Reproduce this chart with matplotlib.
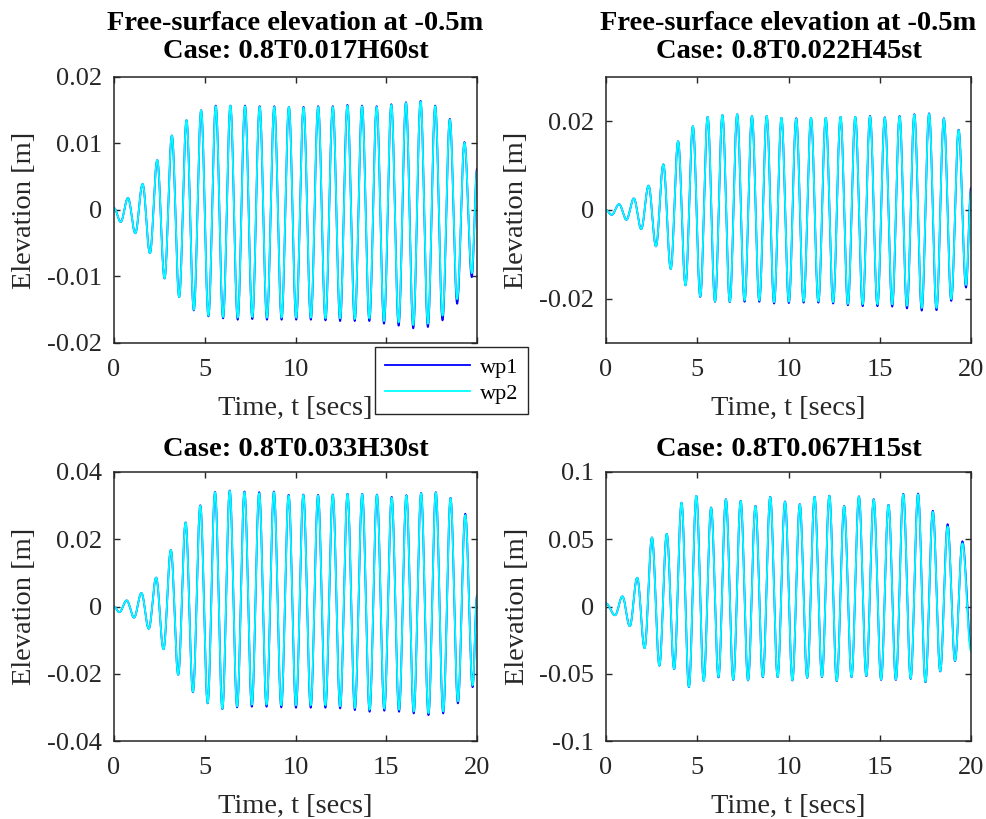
import numpy as np
import matplotlib
matplotlib.use('Agg')
import matplotlib.pyplot as plt
from matplotlib.ticker import FormatStrFormatter

plt.rcParams['font.family'] = ['Liberation Serif', 'DejaVu Serif']
plt.rcParams['axes.unicode_minus'] = False

# extrema (trough, crest, trough, ...), metres
tl_wp2 = [-0.0018, 0.0018, -0.0035, 0.0039, -0.0065, 0.0075, -0.0103, 0.0112,
          -0.0131, 0.0135, -0.0150, 0.0150, -0.0159, 0.0156, -0.0161, 0.0157,
          -0.0162, 0.0156, -0.0161, 0.0155, -0.0162, 0.0155, -0.0162, 0.0155,
          -0.0162, 0.0154, -0.0162, 0.0155, -0.0163, 0.0155, -0.0163, 0.0157,
          -0.0164, 0.0156, -0.0163, 0.0155, -0.0167, 0.0158, -0.0169, 0.0161,
          -0.0173, 0.0163, -0.0171, 0.0156, -0.0159, 0.0136, -0.0134, 0.0101,
          -0.0095]
tl_wp1 = [-0.0018, 0.0018, -0.0035, 0.0039, -0.0065, 0.0075, -0.0103, 0.0112,
          -0.0131, 0.0135, -0.0151, 0.0150, -0.0160, 0.0157, -0.0163, 0.0157,
          -0.0165, 0.0157, -0.0164, 0.0156, -0.0165, 0.0156, -0.0165, 0.0155,
          -0.0165, 0.0155, -0.0165, 0.0156, -0.0166, 0.0156, -0.0167, 0.0158,
          -0.0167, 0.0157, -0.0167, 0.0156, -0.0171, 0.0159, -0.0174, 0.0162,
          -0.0178, 0.0164, -0.0176, 0.0157, -0.0166, 0.0137, -0.0141, 0.0102,
          -0.0101]

tr_wp2 = [-0.0011, 0.0013, -0.0022, 0.0026, -0.0043, 0.0055, -0.0082, 0.0103,
          -0.0133, 0.0155, -0.0170, 0.0189, -0.0195, 0.0210, -0.0206, 0.0214,
          -0.0207, 0.0216, -0.0204, 0.0212, -0.0204, 0.0212, -0.0208, 0.0208,
          -0.0207, 0.0206, -0.0206, 0.0208, -0.0206, 0.0208, -0.0208, 0.0210,
          -0.0212, 0.0210, -0.0213, 0.0211, -0.0213, 0.0208, -0.0213, 0.0211,
          -0.0216, 0.0215, -0.0221, 0.0217, -0.0221, 0.0206, -0.0201, 0.0180,
          -0.0169]
tr_wp1 = [-0.0011, 0.0013, -0.0022, 0.0026, -0.0043, 0.0055, -0.0082, 0.0103,
          -0.0133, 0.0155, -0.0170, 0.0189, -0.0196, 0.0210, -0.0207, 0.0214,
          -0.0208, 0.0216, -0.0207, 0.0212, -0.0207, 0.0212, -0.0211, 0.0208,
          -0.0210, 0.0207, -0.0209, 0.0208, -0.0209, 0.0208, -0.0211, 0.0210,
          -0.0215, 0.0210, -0.0217, 0.0212, -0.0217, 0.0209, -0.0218, 0.0212,
          -0.0222, 0.0216, -0.0227, 0.0218, -0.0226, 0.0207, -0.0205, 0.0181,
          -0.0175]

bl_wp2 = [-0.0017, 0.0018, -0.0033, 0.0040, -0.0066, 0.0086, -0.0127, 0.0168,
          -0.0203, 0.0250, -0.0254, 0.0300, -0.0287, 0.0340, -0.0304, 0.0344,
          -0.0297, 0.0340, -0.0292, 0.0337, -0.0292, 0.0340, -0.0294, 0.0330,
          -0.0294, 0.0332, -0.0294, 0.0330, -0.0294, 0.0332, -0.0297, 0.0334,
          -0.0302, 0.0334, -0.0307, 0.0332, -0.0304, 0.0324, -0.0307, 0.0330,
          -0.0312, 0.0337, -0.0317, 0.0339, -0.0312, 0.0322, -0.0282, 0.0272,
          -0.0235]
bl_wp1 = [-0.0017, 0.0018, -0.0033, 0.0040, -0.0066, 0.0086, -0.0127, 0.0168,
          -0.0203, 0.0250, -0.0255, 0.0301, -0.0288, 0.0341, -0.0305, 0.0345,
          -0.0300, 0.0342, -0.0298, 0.0340, -0.0298, 0.0342, -0.0300, 0.0332,
          -0.0301, 0.0333, -0.0301, 0.0332, -0.0301, 0.0333, -0.0303, 0.0335,
          -0.0308, 0.0335, -0.0313, 0.0333, -0.0310, 0.0326, -0.0313, 0.0331,
          -0.0318, 0.0338, -0.0323, 0.0340, -0.0318, 0.0323, -0.0288, 0.0276,
          -0.0240]

br_wp2 = [-0.0065, 0.0075, -0.0146, 0.0214, -0.0309, 0.0513, -0.0440, 0.0540,
          -0.0465, 0.0771, -0.0598, 0.0822, -0.0553, 0.0734, -0.0523, 0.0796,
          -0.0543, 0.0784, -0.0548, 0.0746, -0.0523, 0.0814, -0.0523, 0.0779,
          -0.0548, 0.0759, -0.0528, 0.0814, -0.0523, 0.0822, -0.0553, 0.0746,
          -0.0523, 0.0817, -0.0515, 0.0796, -0.0543, 0.0754, -0.0543, 0.0834,
          -0.0535, 0.0834, -0.0560, 0.0704, -0.0480, 0.0595, -0.0402, 0.0470]
br_wp1 = [-0.0065, 0.0075, -0.0146, 0.0214, -0.0309, 0.0513, -0.0440, 0.0540,
          -0.0466, 0.0772, -0.0600, 0.0822, -0.0553, 0.0736, -0.0527, 0.0798,
          -0.0546, 0.0786, -0.0550, 0.0748, -0.0526, 0.0816, -0.0525, 0.0781,
          -0.0550, 0.0761, -0.0530, 0.0816, -0.0525, 0.0824, -0.0555, 0.0748,
          -0.0525, 0.0819, -0.0518, 0.0798, -0.0546, 0.0756, -0.0546, 0.0838,
          -0.0538, 0.0840, -0.0563, 0.0712, -0.0483, 0.0612, -0.0405, 0.0485]

# value at t=0 and t=20 for (wp1, wp2)
tl_ends = [(0.0003, 0.0062), (0.0003, 0.0058)]
tr_ends = [(0.0, 0.0050), (0.0, 0.0041)]
bl_ends = [(0.0, 0.0032), (0.0, 0.0030)]
br_ends = [(0.0023, -0.0300), (0.0023, -0.0334)]

# time of first extremum and wave period as seen in each panel
t_first = [0.367, 0.31, 0.294, 0.493]
periods = [0.806, 0.809, 0.811, 0.81]

titles = ['Free-surface elevation at -0.5m\nCase: 0.8T0.017H60st',
          'Free-surface elevation at -0.5m\nCase: 0.8T0.022H45st',
          'Case: 0.8T0.033H30st',
          'Case: 0.8T0.067H15st']
ylims = [(-0.02, 0.02), (-0.03, 0.03), (-0.04, 0.04), (-0.1, 0.1)]
yticks = [[-0.02, -0.01, 0, 0.01, 0.02], [-0.02, 0, 0.02],
          [-0.04, -0.02, 0, 0.02, 0.04], [-0.1, -0.05, 0, 0.05, 0.1]]
series = [(tl_wp1, tl_wp2, tl_ends), (tr_wp1, tr_wp2, tr_ends),
          (bl_wp1, bl_wp2, bl_ends), (br_wp1, br_wp2, br_ends)]


def trace(t0, period, eta, start, end, t_end=20.0):
    # join the read extrema with half-cosine arcs
    tk = np.concatenate([[0.0], t0 + 0.5 * period * np.arange(len(eta)), [t_end]])
    vk = np.concatenate([[start], eta, [end]])
    t = np.linspace(0, t_end, 6001)
    i = np.clip(np.searchsorted(tk, t, side='right') - 1, 0, len(tk) - 2)
    s = (t - tk[i]) / (tk[i + 1] - tk[i])
    return t, vk[i] + (vk[i + 1] - vk[i]) * (1 - np.cos(np.pi * s)) / 2


pos = [[0.1155, 0.5812, 0.3678, 0.3248], [0.614, 0.5812, 0.3698, 0.3248],
       [0.1155, 0.0952, 0.3678, 0.3285], [0.614, 0.0952, 0.3698, 0.3285]]
dark = (0.15, 0.15, 0.15)

fig = plt.figure(figsize=(9.87, 8.19), dpi=100)
axes = []
for k in range(4):
    ax = fig.add_axes(pos[k])
    w1, w2, ends = series[k]
    t, v = trace(t_first[k], periods[k], w1, *ends[0])
    l1, = ax.plot(t, v, color='#0000ff', lw=1.3, label='wp1')
    t, v = trace(t_first[k], periods[k], w2, *ends[1])
    l2, = ax.plot(t, v, color='#00ffff', lw=1.3, label='wp2')
    ax.set_xlim(0, 20); ax.set_ylim(*ylims[k])
    ax.set_xticks([0, 5, 10, 15, 20]); ax.set_yticks(yticks[k])
    ax.yaxis.set_major_formatter(FormatStrFormatter('%g'))
    ax.tick_params(direction='in', length=4, width=1, top=True, right=True,
                   labelsize=19, colors=dark)
    ax.tick_params(axis='x', pad=11.3)
    ax.tick_params(axis='y', pad=8.5)
    for sp in ax.spines.values():
        sp.set_color(dark); sp.set_linewidth(1.1)
    ax.set_title(titles[k], fontsize=20.5, fontweight='bold',
                 pad=14 if k < 2 else 11.5, linespacing=1.12)
    ax.set_xlabel('Time, t [secs]', fontsize=20.5, color=dark, labelpad=11)
    ax.set_ylabel('Elevation [m]', fontsize=20.5, color=dark, labelpad=7)
    axes.append(ax)

# the legend sits over the last two x tick labels of the first panel
fig.canvas.draw()
for lab in axes[0].get_xticklabels()[3:]:
    lab.set_visible(False)

fig.legend([l1, l2], ['wp1', 'wp2'], loc='upper left', bbox_to_anchor=(0.380, 0.5763),
           borderaxespad=0, fontsize=16, handlelength=3.8, handletextpad=0.45,
           borderpad=0.45, labelspacing=0.25, frameon=True, fancybox=False,
           framealpha=1, edgecolor=dark)

fig.savefig('out.png', dpi=100, facecolor='white')
